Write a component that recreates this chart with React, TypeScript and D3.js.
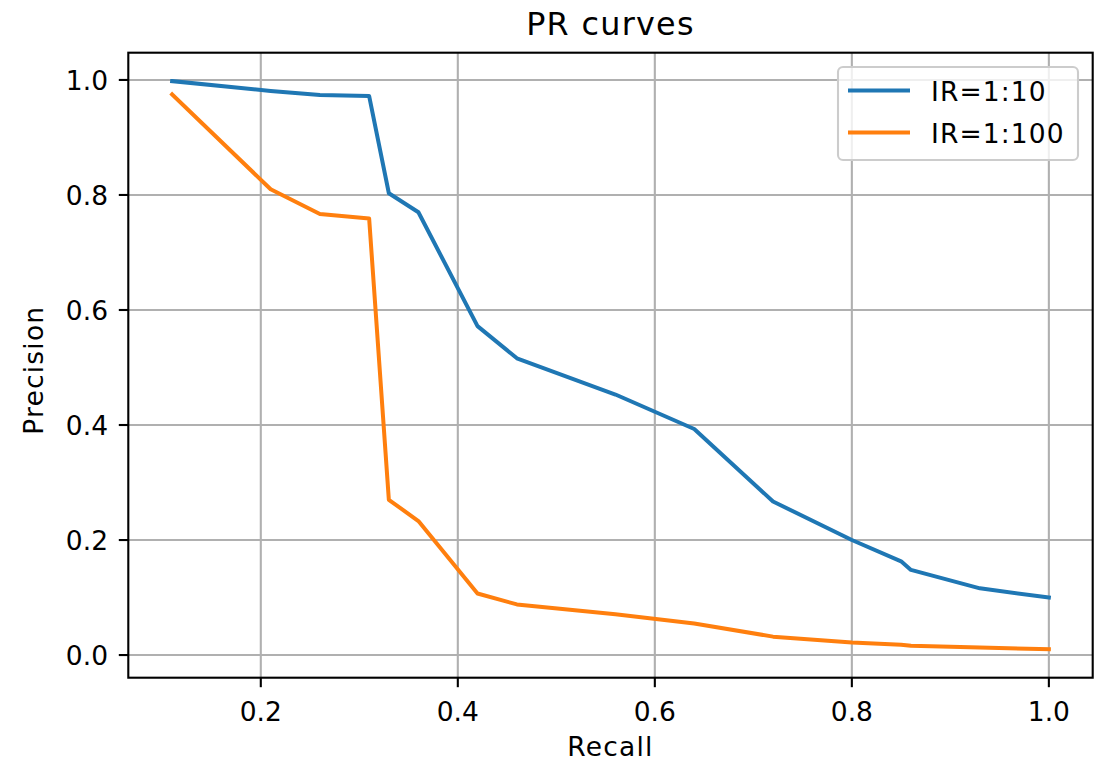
import React, { useEffect, useRef } from 'react';
import * as d3 from 'd3';

// values
const recall = [0.11, 0.21, 0.26, 0.31, 0.33, 0.36, 0.42, 0.46, 0.56, 0.64, 0.72, 0.8, 0.85, 0.86, 0.93, 1.0];
const precisionIR10 = [0.998, 0.981, 0.974, 0.972, 0.803, 0.77, 0.572, 0.516, 0.453, 0.393, 0.267, 0.2, 0.163, 0.148, 0.116, 0.1];
const precisionIR100 = [0.975, 0.81, 0.767, 0.759, 0.27, 0.233, 0.107, 0.088, 0.071, 0.055, 0.032, 0.022, 0.018, 0.016, 0.013, 0.01];
const seriesNames = ['IR=1:10', 'IR=1:100'];
const seriesColors = ['#1f77b4', '#ff7f0e'];
const xTicks = [0.2, 0.4, 0.6, 0.8, 1.0];
const yTicks = [0.0, 0.2, 0.4, 0.6, 0.8, 1.0];

const App = () => {
  const svgRef = useRef<SVGSVGElement>(null);

  useEffect(() => {
    const w = 1104;
    const h = 763;
    const left = 128.3, right = 1092.7, top = 52.7, bottom = 677.7;
    const font = 'DejaVu Sans, sans-serif';

    const svg = d3.select(svgRef.current).attr('width', w).attr('height', h);
    svg.selectAll('*').remove();

    const series = [precisionIR10, precisionIR100];
    const allY = series.flat();

    // matplotlib style 5% margins
    const [x0, x1] = d3.extent(recall) as [number, number];
    const [y0, y1] = d3.extent(allY) as [number, number];
    const px = (x1 - x0) * 0.05;
    const py = (y1 - y0) * 0.05;

    const xScale = d3.scaleLinear().domain([x0 - px, x1 + px]).range([left, right]);
    const yScale = d3.scaleLinear().domain([y0 - py, y1 + py]).range([bottom, top]);

    svg.append('rect').attr('width', w).attr('height', h).attr('fill', 'white');

    // grid
    const grid = svg.append('g').attr('stroke', '#b0b0b0').attr('stroke-width', 2.1);
    xTicks.forEach((t) => {
      grid.append('line').attr('x1', xScale(t)).attr('x2', xScale(t)).attr('y1', top).attr('y2', bottom);
    });
    yTicks.forEach((t) => {
      grid.append('line').attr('x1', left).attr('x2', right).attr('y1', yScale(t)).attr('y2', yScale(t));
    });

    // lines
    const line = d3
      .line<number>()
      .x((_, i) => xScale(recall[i]))
      .y((d) => yScale(d));

    series.forEach((s, i) => {
      svg
        .append('path')
        .attr('d', line(s))
        .attr('fill', 'none')
        .attr('stroke', seriesColors[i])
        .attr('stroke-width', 4)
        .attr('stroke-linejoin', 'round')
        .attr('stroke-linecap', 'square');
    });

    // spines
    svg
      .append('rect')
      .attr('x', left)
      .attr('y', top)
      .attr('width', right - left)
      .attr('height', bottom - top)
      .attr('fill', 'none')
      .attr('stroke', 'black')
      .attr('stroke-width', 2.1);

    // x ticks
    const xg = svg.append('g');
    xTicks.forEach((t) => {
      xg.append('line')
        .attr('x1', xScale(t)).attr('x2', xScale(t))
        .attr('y1', bottom).attr('y2', bottom + 9.5)
        .attr('stroke', 'black').attr('stroke-width', 2.1);
      xg.append('text')
        .attr('x', xScale(t))
        .attr('y', 721)
        .attr('text-anchor', 'middle')
        .style('font-family', font)
        .style('font-size', '26.5px')
        .text(d3.format('.1f')(t));
    });

    // y ticks
    const yg = svg.append('g');
    yTicks.forEach((t) => {
      yg.append('line')
        .attr('x1', left - 9.5).attr('x2', left)
        .attr('y1', yScale(t)).attr('y2', yScale(t))
        .attr('stroke', 'black').attr('stroke-width', 2.1);
      yg.append('text')
        .attr('x', 108)
        .attr('y', yScale(t) + 10)
        .attr('text-anchor', 'end')
        .style('font-family', font)
        .style('font-size', '26.5px')
        .text(d3.format('.1f')(t));
    });

    // labels
    svg
      .append('text')
      .attr('x', (left + right) / 2)
      .attr('y', 756)
      .attr('text-anchor', 'middle')
      .style('font-family', font)
      .style('font-size', '26.5px')
      .style('letter-spacing', '1.2px')
      .text('Recall');

    svg
      .append('text')
      .attr('transform', `translate(43,${(top + bottom) / 2 + 5}) rotate(-90)`)
      .attr('text-anchor', 'middle')
      .style('font-family', font)
      .style('font-size', '26.5px')
      .style('letter-spacing', '1.2px')
      .text('Precision');

    svg
      .append('text')
      .attr('x', (left + right) / 2)
      .attr('y', 35)
      .attr('text-anchor', 'middle')
      .style('font-family', font)
      .style('font-size', '31.8px')
      .style('letter-spacing', '1.3px')
      .text('PR curves');

    // legend
    const lg = svg.append('g');
    lg.append('rect')
      .attr('x', 838)
      .attr('y', 67)
      .attr('width', 240)
      .attr('height', 93)
      .attr('rx', 5)
      .attr('fill', 'white')
      .attr('fill-opacity', 0.8)
      .attr('stroke', '#cccccc')
      .attr('stroke-width', 2.1);
    seriesNames.forEach((name, i) => {
      const yy = 90.5 + i * 42;
      lg.append('line')
        .attr('x1', 848).attr('x2', 910)
        .attr('y1', yy).attr('y2', yy)
        .attr('stroke', seriesColors[i])
        .attr('stroke-width', 4);
      lg.append('text')
        .attr('x', 931)
        .attr('y', yy + 10.5)
        .style('font-family', font)
        .style('font-size', '26.5px')
        .style('letter-spacing', '1.1px')
        .text(name);
    });
  }, []);

  return (
    <div style={{ position: 'absolute', left: 0, top: 0 }}>
      <svg ref={svgRef} style={{ display: 'block' }}></svg>
    </div>
  );
};

export default App;
